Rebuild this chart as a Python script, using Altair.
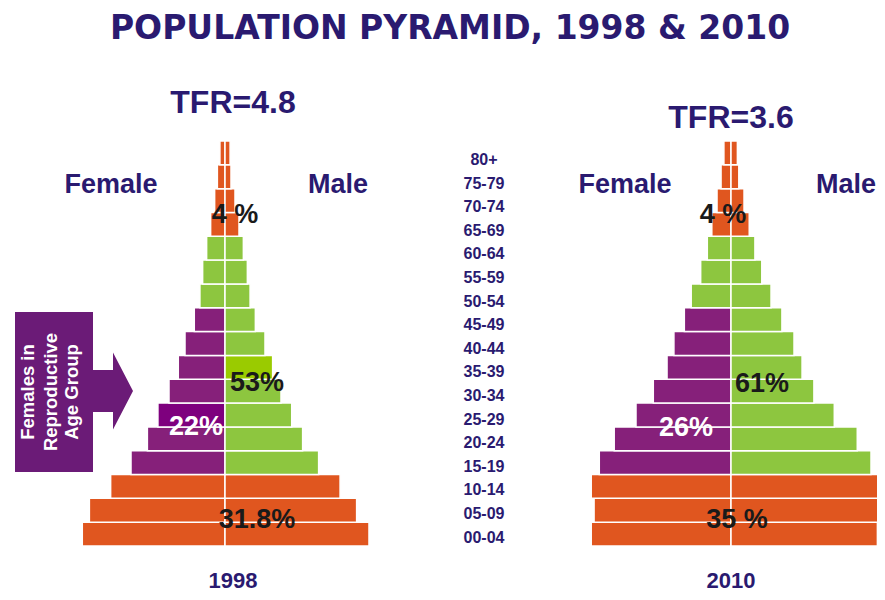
import altair as alt
import pandas as pd

# ---------------- data (share of population, %) ----------------
ages = ["00-04", "05-09", "10-14", "15-19", "20-24", "25-29", "30-34", "35-39",
        "40-44", "45-49", "50-54", "55-59", "60-64", "65-69", "70-74", "75-79", "80+"]
female_1998 = [7.85, 7.46, 6.29, 5.17, 4.27, 3.69, 3.08, 2.57, 2.20, 1.69, 1.38, 1.23, 1.01, 0.79, 0.57, 0.42, 0.28]
male_1998 = [7.92, 7.24, 6.33, 5.15, 4.27, 3.67, 3.08, 2.62, 2.20, 1.67, 1.38, 1.23, 1.01, 0.77, 0.55, 0.33, 0.28]
female_2010 = [5.90, 5.78, 5.90, 5.56, 4.93, 4.01, 3.28, 2.70, 2.41, 1.97, 1.68, 1.28, 1.00, 0.81, 0.59, 0.42, 0.30]
male_2010 = [6.18, 6.25, 6.25, 5.91, 5.33, 4.36, 3.50, 3.00, 2.66, 2.15, 1.69, 1.30, 1.01, 0.77, 0.55, 0.33, 0.27]

highlight_1998 = {("F", "25-29"): "purple_hi", ("M", "35-39"): "green_hi"}

ages_top_down = ages[::-1]

NAVY = "#2A1A70"
FONT = "Liberation Sans"


def category(sex, age, hl):
    if (sex, age) in hl:
        return hl[(sex, age)]
    i = ages.index(age)
    if i <= 2 or i >= 13:
        return "orange"
    if sex == "F" and i <= 9:
        return "purple"
    return "green"


def frame(fem, mal, hl):
    rows = []
    for a, f, m in zip(ages, fem, mal):
        rows.append({"age": a, "v": -f, "cat": category("F", a, hl)})
        rows.append({"age": a, "v": m, "cat": category("M", a, hl)})
    return pd.DataFrame(rows)


df98 = frame(female_1998, male_1998, highlight_1998)
df10 = frame(female_2010, male_2010, {})

color_scale = alt.Scale(
    domain=["orange", "purple", "green", "purple_hi", "green_hi"],
    range=["#E0561F", "#86207A", "#8DC63F", "#7E007E", "#9ACB00"],
)
y_scale = alt.Scale(domain=ages_top_down, range=[133, 538], paddingInner=0, paddingOuter=0)


def pyramid(df, center, px_per_unit):
    return alt.Chart(df).mark_bar(stroke="white", strokeWidth=1.5).encode(
        x=alt.X("v:Q", axis=None,
                scale=alt.Scale(domain=[-10, 10], nice=False,
                                range=[center - 10 * px_per_unit, center + 10 * px_per_unit])),
        y=alt.Y("age:N", axis=None, scale=y_scale),
        color=alt.Color("cat:N", scale=color_scale, legend=None),
    )


bars98 = pyramid(df98, 217, 18.18)
bars10 = pyramid(df10, 723, 23.69)

age_labels = alt.Chart(pd.DataFrame({"lbl": ages})).mark_text(
    font=FONT, fontSize=16, fontWeight="bold", color=NAVY, align="center", baseline="middle"
).encode(
    text="lbl:N",
    x=alt.value(476),
    y=alt.Y("lbl:N", axis=None,
            scale=alt.Scale(domain=ages_top_down, range=[140.2, 541.3], paddingInner=0, paddingOuter=0)),
)


def label(text, x, y, size, color=NAVY, align="center", font=FONT, angle=0):
    return alt.Chart(pd.DataFrame({"t": [text]})).mark_text(
        font=font, fontSize=size, fontWeight="bold", color=color, align=align,
        baseline="alphabetic", angle=angle,
    ).encode(text="t:N", x=alt.value(x), y=alt.value(y))


# reproductive-age box and arrow
box = alt.Chart(pd.DataFrame({"k": [0]})).mark_rect(color="#6B1B77").encode(
    x=alt.value(7), x2=alt.value(85), y=alt.value(304), y2=alt.value(464)
)
arrow_path = "M-0.6,-0.525 L0,-0.525 L0,-0.96 L0.5,0 L0,0.96 L0,0.525 L-0.6,0.525 Z"
arrow = alt.Chart(pd.DataFrame({"k": [0]})).mark_point(
    shape=arrow_path, filled=True, color="#6B1B77", opacity=1, size=6400, strokeWidth=0
).encode(x=alt.value(105), y=alt.value(383))

layers = [
    bars98, bars10, age_labels, box, arrow,
    label("POPULATION PYRAMID, 1998 & 2010", 442, 31, 33, font="DejaVu Sans"),
    label("TFR=4.8", 225, 105, 32),
    label("TFR=3.6", 723, 120, 32),
    label("Female", 103, 185, 27),
    label("Male", 330, 185, 27),
    label("Female", 617, 185, 27),
    label("Male", 808, 185, 27, align="left"),
    label("4 %", 227, 215, 27, color="#1A1A1A"),
    label("53%", 249, 383, 27, color="#1A1A1A"),
    label("22%", 188, 427, 27, color="white"),
    label("31.8%", 249, 520, 27, color="#1A1A1A"),
    label("4 %", 715, 215, 27, color="#1A1A1A"),
    label("61%", 754, 384, 27, color="#1A1A1A"),
    label("26%", 678, 428, 27, color="white"),
    label("35 %", 729, 520, 27, color="#1A1A1A"),
    label("1998", 225, 579.5, 22),
    label("2010", 723, 579.5, 22),
    label("Females in", 25.5, 384, 18.5, color="white", angle=270),
    label("Reproductive", 48.5, 384, 18.5, color="white", angle=270),
    label("Age Group", 69.5, 384, 18.5, color="white", angle=270),
]

chart = alt.layer(*layers).resolve_scale(x="independent", y="independent").properties(
    width=869, height=584, padding=0, background="white",
    autosize=alt.AutoSizeParams(type="none"),
).configure_view(stroke=None)

chart.save("out.html", embed_options={"renderer": "svg", "actions": False})
